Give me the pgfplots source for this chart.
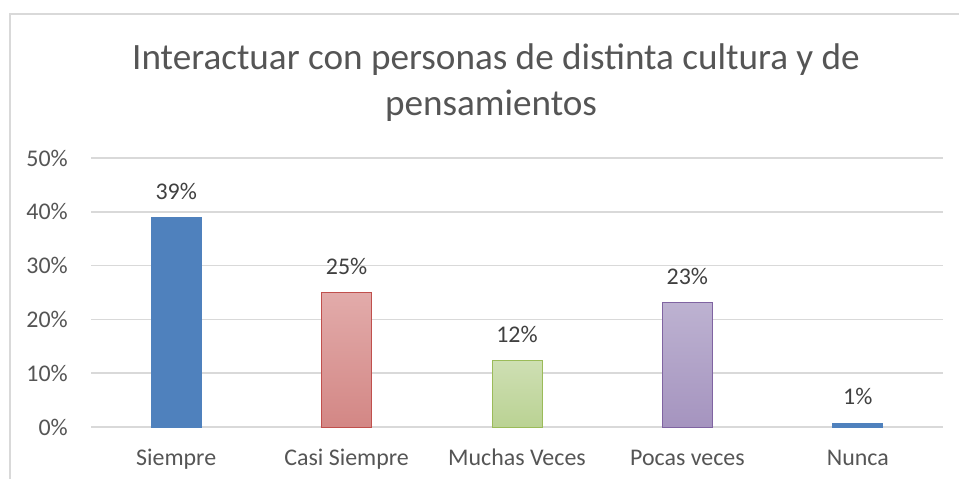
\documentclass[border=0pt]{standalone}
\usepackage{fontspec}
\setmainfont{Carlito}
\usepackage{pgfplots}
\pgfplotsset{compat=1.18}
\definecolor{gridc}{HTML}{D9D9D9}
\definecolor{titlec}{HTML}{555555}
\definecolor{tickc}{HTML}{555555}
\definecolor{labc}{HTML}{404040}
\definecolor{blueb}{HTML}{4F81BD}
\definecolor{redtop}{HTML}{E2ABAA}
\definecolor{redbot}{HTML}{D38785}
\definecolor{redb}{HTML}{C0504D}
\definecolor{greentop}{HTML}{CEDFB3}
\definecolor{greenbot}{HTML}{BAD293}
\definecolor{greenb}{HTML}{9BBB59}
\definecolor{purtop}{HTML}{BDB2D1}
\definecolor{purbot}{HTML}{A594BF}
\definecolor{purb}{HTML}{8064A2}
\begin{document}
\begin{tikzpicture}
\useasboundingbox (0bp,0bp) rectangle (959bp,479bp);
\fill[white] (0bp,0bp) rectangle (959bp,479bp);
\draw[gridc, line width=1.5bp] (10bp,0bp) -- (10bp,465bp) -- (959bp,465bp);
\node[anchor=base, text=titlec, font=\fontsize{37.3}{44}\selectfont, inner sep=0pt] at (496bp,409bp) {Interactuar con personas de distinta cultura y de};
\node[anchor=base, text=titlec, font=\fontsize{37.3}{44}\selectfont, inner sep=0pt] at (491bp,363.5bp) {pensamientos};
\begin{axis}[
  at={(91bp,52bp)}, anchor=south west,
  scale only axis, width=852bp, height=269bp,
  xmin=-0.5, xmax=4.5, ymin=0, ymax=50,
  enlargelimits=false, clip=false,
  axis line style={draw=none},
  major tick length=0pt,
  ytick={0,10,20,30,40,50},
  yticklabel={\pgfmathprintnumber{\tick}\%},
  xtick={0,1,2,3,4},
  xticklabels={Siempre, Casi Siempre, Muchas Veces, Pocas veces, Nunca},
  ymajorgrids, grid style={gridc, line width=1.6bp},
  /pgf/number format/assume math mode=true,
  yticklabel style={anchor=east, inner sep=0pt, xshift=-23bp, text=tickc, font=\fontsize{24}{28}\selectfont},
  xticklabel style={anchor=base, inner sep=0pt, yshift=-38bp, text=tickc, font=\fontsize{24}{28}\selectfont},
  ybar, bar width=50bp, bar shift=0pt,
  nodes near coords={\pgfmathprintnumber[fixed,precision=0]{\pgfplotspointmeta}\%},
  every node near coord/.append style={anchor=base, yshift=18.5bp, inner sep=0pt, text=labc, font=\fontsize{24}{28}\selectfont},
]
\addplot[fill=blueb, draw=blueb, line width=0.8bp] coordinates {(0,38.9)};
\addplot[top color=redtop, bottom color=redbot, draw=redb, line width=1bp] coordinates {(1,25)};
\addplot[top color=greentop, bottom color=greenbot, draw=greenb, line width=1bp] coordinates {(2,12.3)};
\addplot[top color=purtop, bottom color=purbot, draw=purb, line width=1bp] coordinates {(3,23.1)};
\addplot[fill=blueb, draw=blueb, line width=0.8bp] coordinates {(4,0.7)};
\end{axis}
\end{tikzpicture}
\end{document}
